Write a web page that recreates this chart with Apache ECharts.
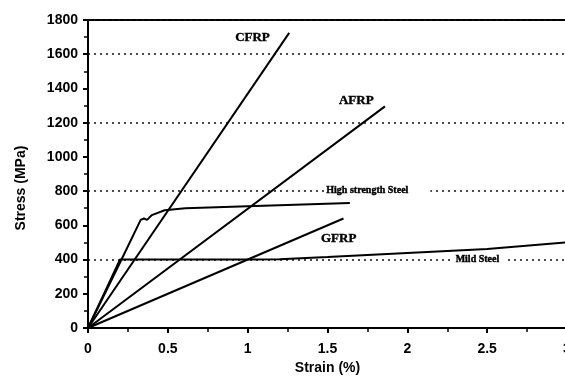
<!DOCTYPE html>
<html>
<head>
<meta charset="utf-8">
<script src="https://cdn.jsdelivr.net/npm/echarts@6/dist/echarts.min.js"></script>
<style>
	html, body { margin: 0; padding: 0; background: #fff; }
	#chart { width: 565px; height: 376px; }
</style>
</head>
<body>
<div id="chart"></div>
<script>
	// stress-strain curves, strain in %, stress in MPa
	let cfrpStrain = [0, 1.26];
	let cfrpStress = [0, 1725];
	let afrpStrain = [0, 1.86];
	let afrpStress = [0, 1295];
	let gfrpStrain = [0, 1.6];
	let gfrpStress = [0, 640];
	let hsStrain = [0, 0.21, 0.33, 0.35, 0.37, 0.40, 0.48, 0.61, 1.0, 1.64];
	let hsStress = [0, 400, 632, 640, 632, 660, 688, 700, 712, 730];
	let mildStrain = [0, 0.2, 1.0, 1.2, 1.5, 2.0, 2.5, 3.0];
	let mildStress = [0, 400, 400, 402, 415, 438, 462, 500];

	// curve names written on the plot
	let labelText = ['CFRP', 'AFRP', 'GFRP', 'High strength Steel', 'Mild Steel'];
	let labelStrain = [1.03, 1.68, 1.57, 1.48, 2.29];
	let labelStress = [1697, 1329, 525, 805, 400];

	let yTicks = [0, 1800, 200];
	let xTicks = [0, 3, 0.5];

	let pairs = (xs, ys) => xs.map((x, i) => [x, ys[i]]);

	let curve = (name, xs, ys) => {
		return {
			name: name,
			type: 'line',
			data: pairs(xs, ys),
			symbol: 'none',
			silent: true,
			z: 5,
			lineStyle: {
				color: '#000',
				width: 2
			}
		}
	};

	let labelData = labelText.map((t, i) => {
		let steel = i >= 3;
		return {
			value: [labelStrain[i], labelStress[i]],
			label: {
				formatter: t,
				position: steel ? 'right' : 'inside',
				distance: 0,
				fontSize: steel ? 10 : 13,
				backgroundColor: steel ? '#fff' : 'transparent',
				padding: steel ? (i == 3 ? [1, 22, 1, 2] : [1, 8, 1, 2]) : 0
			}
		}
	});

	let axisFont = {
		color: '#000',
		fontFamily: 'Liberation Sans',
		fontWeight: 'bold',
		fontSize: 14
	};

	let option = {
		animation: false,
		grid: {
			top: 20,
			bottom: 48,
			left: 88,
			right: -2,
			outerBoundsMode: 'none',
			containLabel: false,
			show: true,
			borderColor: '#000',
			borderWidth: 2
		},
		xAxis: {
			type: 'value',
			min: xTicks[0],
			max: xTicks[1],
			interval: xTicks[2],
			name: 'Strain (%)',
			nameLocation: 'middle',
			nameGap: 31,
			nameTextStyle: axisFont,
			axisLine: {
				show: true,
				lineStyle: { color: '#000', width: 2 }
			},
			axisTick: {
				show: true,
				length: 5,
				lineStyle: { color: '#000', width: 2 }
			},
			minorTick: {
				show: true,
				splitNumber: 2,
				length: 4,
				lineStyle: { color: '#000', width: 1.5 }
			},
			axisLabel: Object.assign({ margin: 14 }, axisFont),
			splitLine: { show: false }
		},
		yAxis: [{
			type: 'value',
			min: yTicks[0],
			max: yTicks[1],
			interval: yTicks[2],
			name: 'Stress (MPa)',
			nameLocation: 'middle',
			nameGap: 60,
			nameTextStyle: Object.assign({ padding: [0, 28, 0, 0] }, axisFont),
			axisLine: {
				show: true,
				lineStyle: { color: '#000', width: 2 }
			},
			axisTick: {
				show: true,
				length: 5,
				lineStyle: { color: '#000', width: 2 }
			},
			minorTick: {
				show: true,
				splitNumber: 2,
				length: 4,
				lineStyle: { color: '#000', width: 1.5 }
			},
			axisLabel: Object.assign({
				margin: 10,
				formatter: function (value) {
					return String(value);
				}
			}, axisFont),
			splitLine: { show: false }
		},
		{
			// dotted guide lines every 400 MPa
			type: 'value',
			min: 0,
			max: 1800,
			interval: 400,
			position: 'right',
			axisLine: { show: false },
			axisTick: { show: false },
			axisLabel: { show: false },
			splitLine: {
				show: true,
				lineStyle: {
					color: '#111',
					width: 1.6,
					type: [2, 4]
				}
			}
		}],
		series: [
			curve('CFRP', cfrpStrain, cfrpStress),
			curve('AFRP', afrpStrain, afrpStress),
			curve('GFRP', gfrpStrain, gfrpStress),
			curve('High strength Steel', hsStrain, hsStress),
			curve('Mild Steel', mildStrain, mildStress),
			{
				name: 'labels',
				type: 'scatter',
				symbolSize: 0,
				silent: true,
				z: 4,
				data: labelData,
				itemStyle: {
					opacity: 1
				},
				label: {
					show: true,
					color: '#000',
					fontFamily: 'Liberation Serif',
					fontWeight: 'bold',
					textBorderColor: '#000',
					textBorderWidth: 0.4
				}
			}
		]
	};

	var myChart = echarts.init(document.getElementById('chart'));
	myChart.setOption(option);
</script>
</body>
</html>
